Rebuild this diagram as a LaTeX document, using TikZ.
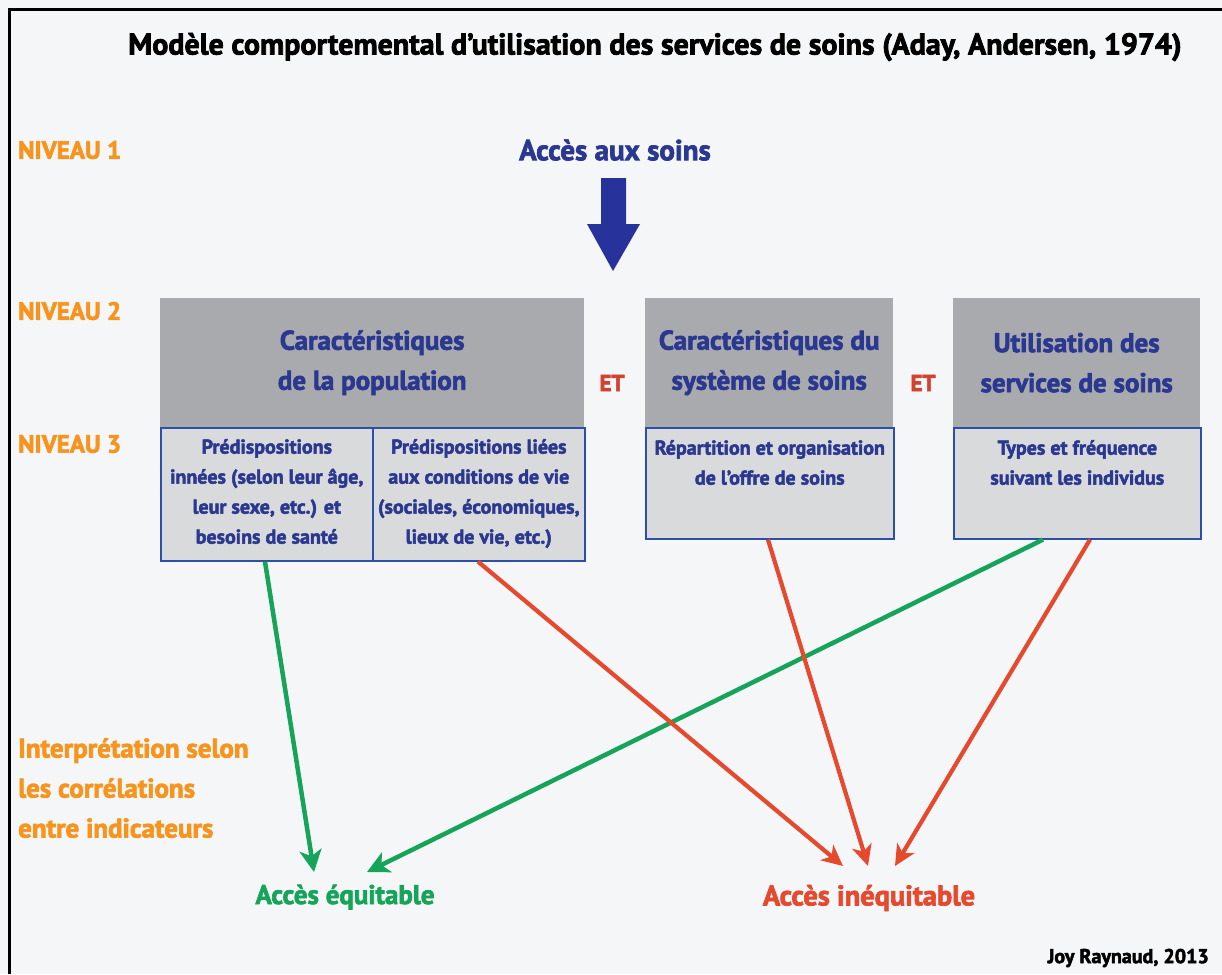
\documentclass[tikz,border=0pt]{standalone}
\usepackage{fontspec}
\setmainfont{PT Sans}[BoldFeatures={FakeBold=2.4}]
\usetikzlibrary{arrows.meta,calc}
\definecolor{bgc}{HTML}{F5F6F8}
\definecolor{navy}{HTML}{2B3890}
\definecolor{bordc}{HTML}{2E4FA8}
\definecolor{hdrgray}{HTML}{A9AAAD}
\definecolor{lowgray}{HTML}{D9DADC}
\definecolor{orng}{HTML}{F7941D}
\definecolor{redc}{HTML}{E5492E}
\definecolor{grn}{HTML}{16A35A}
\definecolor{etred}{HTML}{D2432F}
\tikzset{
  hdrbox/.style={fill=hdrgray, anchor=north west, inner sep=0pt, align=center, text=navy,
    font=\fontsize{27}{40}\selectfont\bfseries},
  lowbox/.style={fill=lowgray, draw=bordc, line width=1.6pt, anchor=north west, inner sep=0pt},
  lowtxt/.style={anchor=north, align=center, text=navy, font=\fontsize{20}{30}\selectfont\bfseries, inner sep=0pt},
  lvl/.style={anchor=west, text=orng, font=\fontsize{25}{30}\selectfont\bfseries, inner sep=0pt},
  ettxt/.style={text=etred, font=\fontsize{23}{26}\selectfont\bfseries, inner sep=0pt},
  garrow/.style={draw=grn, line width=4.5pt, -{Stealth[width=22pt,length=22pt,inset=6pt]}},
  rarrow/.style={draw=redc, line width=4.2pt, -{Stealth[width=20pt,length=21pt,inset=6pt]}},
}
\begin{document}
\begin{tikzpicture}[x=1pt,y=-1pt]
\fill[bgc] (0,0) rectangle (1222,974);
\useasboundingbox (0,0) rectangle (1222,974);
\draw[line width=3pt, black] (9,974) -- (9,10) -- (1222,10);

\node[font=\fontsize{30}{36}\selectfont\bfseries, inner sep=0pt] (title) at (655,47)
  {Modèle comportemental d’utilisation des services de soins (Aday, Andersen, 1974)};

\node[lvl] (n1) at (18,150) {NIVEAU 1};
\node[lvl] (n2) at (18,311) {NIVEAU 2};
\node[lvl] (n3) at (18,444) {NIVEAU 3};

\node[text=navy, font=\fontsize{29}{36}\selectfont\bfseries, inner sep=0pt] (acces) at (615,150) {Accès aux soins};
\fill[navy!90!blue] (601,178) -- (626,178) -- (626,224) -- (640,224) -- (613,271) -- (587,224) -- (601,224) -- cycle;

% level 2 headers
\node[hdrbox, minimum width=424pt, minimum height=129pt] (h1) at (160,298) {Caractéristiques\\de la population};
\node[hdrbox, minimum width=248pt, minimum height=129pt] (h2) at (645,298) {Caractéristiques du\\système de soins};
\node[hdrbox, minimum width=247pt, minimum height=129pt] (h3) at (953,298) {Utilisation des\\services de soins};

\node[ettxt] (et1) at (612,383) {ET};
\node[ettxt] (et2) at (923,383) {ET};

% level 3 boxes
\node[lowbox, minimum width=212pt, minimum height=133pt] (p1) at (160,427) {};
\node[lowbox, minimum width=212pt, minimum height=133pt] (p2) at (372,427) {};
\node[lowbox, minimum width=248pt, minimum height=111pt] (s1) at (645,427) {};
\node[lowbox, minimum width=247pt, minimum height=111pt] (u1) at (953,427) {};

\node[lowtxt] (p1t) at ([yshift=-12pt]p1.north) {Prédispositions\\innées (selon leur âge,\\leur sexe, etc.) et\\besoins de santé};
\node[lowtxt] (p2t) at ([yshift=-12pt]p2.north) {Prédispositions liées\\aux conditions de vie\\(sociales, économiques,\\lieux de vie, etc.)};
\node[lowtxt] (s1t) at ([yshift=-13pt]s1.north) {Répartition et organisation\\de l’offre de soins};
\node[lowtxt] (u1t) at ([yshift=-13pt]u1.north) {Types et fréquence\\suivant les individus};

% outcomes
\node[text=orng, anchor=west, align=left, font=\fontsize{27}{40}\selectfont\bfseries, inner sep=0pt] (interp) at (18,788)
  {Interprétation selon\\les corrélations\\entre indicateurs};
\node[text=grn, font=\fontsize{27}{32}\selectfont\bfseries, inner sep=0pt] (eq) at (345,897) {Accès équitable};
\node[text=redc, font=\fontsize{28.5}{32}\selectfont\bfseries, inner sep=0pt] (ineq) at (869,898) {Accès inéquitable};
\node[anchor=east, font=\fontsize{20}{24}\selectfont\bfseries, inner sep=0pt] (author) at (1209,958) {Joy Raynaud, 2013};

% arrow end points
\coordinate (g1e) at (314,872);
\coordinate (g2e) at (367,872);
\coordinate (r1e) at (843,866);
\coordinate (r2e) at (868,866);
\coordinate (r3e) at (895,866);

\draw[garrow] ([xshift=105pt]p1.south west) -- (g1e);
\draw[garrow] ([xshift=90pt]u1.south west) -- (g2e);
\draw[rarrow] ([xshift=106pt]p2.south west) -- (r1e);
\draw[rarrow] ([xshift=123pt]s1.south west) -- (r2e);
\draw[rarrow] ([xshift=137pt]u1.south west) -- (r3e);
\end{tikzpicture}
\end{document}
